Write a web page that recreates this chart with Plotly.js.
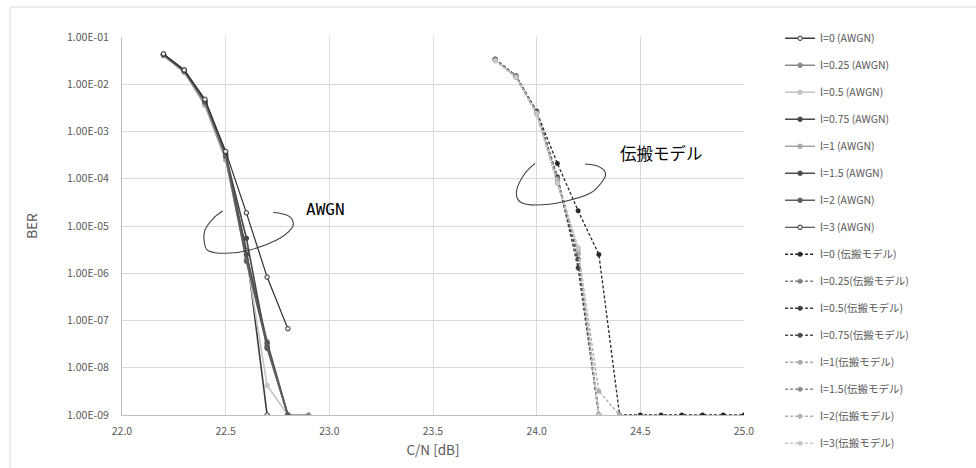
<!DOCTYPE html>
<html>
<head>
<meta charset="utf-8">
<script src="https://cdn.plot.ly/plotly-3.0.1.min.js"></script>
<style>html,body{margin:0;padding:0;background:#fff;}#chart{width:976px;height:468px;}</style>
</head>
<body>
<div id="chart"></div>
<script>
// ---- data ----
const xAwgn = [22.2, 22.3, 22.4, 22.5, 22.6, 22.7, 22.8, 22.9];
const xProp = [23.8, 23.9, 24.0, 24.1, 24.2, 24.3, 24.4, 24.5, 24.6, 24.7, 24.8, 24.9, 25.0];

const awgnNames = ["l=0 (AWGN)", "l=0.25 (AWGN)", "l=0.5 (AWGN)", "l=0.75 (AWGN)", "l=1 (AWGN)", "l=1.5 (AWGN)", "l=2 (AWGN)", "l=3 (AWGN)"];
const awgn_l0   = [4.3e-2, 1.9e-2, 4.2e-3, 3.0e-4, 3.0e-6, 1e-9];
const awgn_l025 = [4.2e-2, 1.9e-2, 4.0e-3, 2.8e-4, 2.5e-6, 3.6e-8, 1e-9, 1e-9];
const awgn_l05  = [4.1e-2, 1.8e-2, 3.8e-3, 2.6e-4, 2.2e-6, 4.2e-9, 1e-9];
const awgn_l075 = [4.2e-2, 1.9e-2, 4.0e-3, 3.2e-4, 5.5e-6, 2.6e-8, 1e-9];
const awgn_l1   = [4.0e-2, 1.8e-2, 3.6e-3, 2.5e-4, 2.0e-6, 3.0e-8, 1e-9];
const awgn_l15  = [4.3e-2, 2.0e-2, 4.5e-3, 3.5e-4, 2.5e-6, 3.3e-8, 1e-9];
const awgn_l2   = [4.2e-2, 1.9e-2, 4.2e-3, 3.0e-4, 1.8e-6, 2.8e-8, 1e-9];
const awgn_l3   = [4.4e-2, 2.0e-2, 4.8e-3, 3.8e-4, 1.9e-5, 8.3e-7, 6.7e-8];

const propNames = ["l=0 (伝搬モデル)", "l=0.25(伝搬モデル)", "l=0.5(伝搬モデル)", "l=0.75(伝搬モデル)", "l=1(伝搬モデル)", "l=1.5(伝搬モデル)", "l=2(伝搬モデル)", "l=3(伝搬モデル)"];
const prop_l0   = [3.4e-2, 1.5e-2, 2.6e-3, 2.1e-4, 2.1e-5, 2.5e-6, 1e-9, 1e-9, 1e-9, 1e-9, 1e-9, 1e-9, 1e-9];
const prop_l025 = [3.3e-2, 1.5e-2, 2.5e-3, 1.0e-4, 2.5e-6, 1e-9];
const prop_l05  = [3.4e-2, 1.5e-2, 2.7e-3, 1.1e-4, 1.3e-6, 1e-9];
const prop_l075 = [3.3e-2, 1.5e-2, 2.5e-3, 9.0e-5, 2.0e-6, 1e-9];
const prop_l1   = [3.2e-2, 1.4e-2, 2.4e-3, 8.0e-5, 3.4e-6, 1e-9];
const prop_l15  = [3.3e-2, 1.5e-2, 2.5e-3, 1.0e-4, 2.8e-6, 1e-9];
const prop_l2   = [3.2e-2, 1.4e-2, 2.4e-3, 9.0e-5, 3.0e-6, 3.2e-9, 1e-9];
const prop_l3   = [3.1e-2, 1.4e-2, 2.3e-3, 8.0e-5, 3.5e-6, 1e-9];

const yTickVals = [1e-9, 1e-8, 1e-7, 1e-6, 1e-5, 1e-4, 1e-3, 1e-2, 1e-1];
const yTickText = ["1.00E-09", "1.00E-08", "1.00E-07", "1.00E-06", "1.00E-05", "1.00E-04", "1.00E-03", "1.00E-02", "1.00E-01"];

// ---- styles ----
const awgnSeries = [awgn_l0, awgn_l025, awgn_l05, awgn_l075, awgn_l1, awgn_l15, awgn_l2, awgn_l3];
const propSeries = [prop_l0, prop_l025, prop_l05, prop_l075, prop_l1, prop_l15, prop_l2, prop_l3];
const awgnColors = ["#3a3a3a", "#8a8a8a", "#c4c4c4", "#474747", "#a6a6a6", "#4d4d4d", "#5e5e5e", "#2e2e2e"];
const awgnOpen   = [true, false, false, false, false, false, false, true];
const propColors = ["#262626", "#7f7f7f", "#3d3d3d", "#4a4a4a", "#a8a8a8", "#8c8c8c", "#b0b0b0", "#c8c8c8"];

const traces = [];
awgnSeries.forEach((ys, i) => {
  traces.push({
    x: xAwgn.slice(0, ys.length), y: ys, name: awgnNames[i], type: 'scatter', mode: 'lines+markers',
    legendgroup: 'a' + i,
    line: {color: awgnColors[i], width: i === 7 ? 1.2 : 1.6},
    marker: {symbol: 'circle', size: 4.5, color: awgnOpen[i] ? '#e6e6e6' : awgnColors[i], line: {color: awgnColors[i], width: 1}}
  });
});
propSeries.forEach((ys, i) => {
  traces.push({
    x: xProp.slice(0, ys.length), y: ys, name: propNames[i], type: 'scatter', mode: 'lines+markers',
    legendgroup: 'p' + i,
    line: {color: propColors[i], width: i === 0 ? 1.3 : 1.5, dash: '3px,2px'},
    marker: {symbol: 'circle', size: 4.5, color: propColors[i], line: {color: propColors[i], width: 0.5}}
  });
});

// ---- helper for hand-drawn ellipses (pixel -> paper) ----
const L = 122, R = 744, T = 37, B = 415;
function toPaper(p) { return [(p[0] - L) / (R - L), (B - p[1]) / (B - T)]; }
function smoothPath(pts) {
  const q = pts.map(toPaper);
  let d = 'M ' + q[0][0] + ',' + q[0][1];
  for (let i = 0; i < q.length - 1; i++) {
    const p0 = q[Math.max(i - 1, 0)], p1 = q[i], p2 = q[i + 1], p3 = q[Math.min(i + 2, q.length - 1)];
    const c1 = [p1[0] + (p2[0] - p0[0]) / 6, p1[1] + (p2[1] - p0[1]) / 6];
    const c2 = [p2[0] - (p3[0] - p1[0]) / 6, p2[1] - (p3[1] - p1[1]) / 6];
    d += ' C ' + c1[0] + ',' + c1[1] + ' ' + c2[0] + ',' + c2[1] + ' ' + p2[0] + ',' + p2[1];
  }
  return d;
}
const awgnLoop = [[222.7,211],[213.3,218.3],[205,230],[204.3,241.7],[208.3,250.7],[226.7,253.3],[250,250],[276.7,240],[291.7,228.3],[292.7,220.7],[286.7,215],[273.3,212.3]];
const propLoop = [[535,163.3],[525,173.3],[516.7,190],[520,201.7],[536.7,205],[563.3,201.7],[590,193.3],[603.3,180],[605,171.7],[596.7,165.7],[585,164]];

const axisFont = {family: 'Noto Sans CJK JP, Open Sans, sans-serif', size: 10.5, color: '#595959'};

const layout = {
  width: 976, height: 468,
  margin: {l: L, r: 976 - R, t: T, b: 468 - B},
  paper_bgcolor: '#ffffff', plot_bgcolor: '#ffffff',
  font: {family: 'Noto Sans CJK JP, Open Sans, sans-serif', color: '#595959'},
  showlegend: true,
  legend: {
    x: 1.058, xanchor: 'left', y: 1.035, yanchor: 'top',
    traceorder: 'grouped', tracegroupgap: 8, maxheight: 466,
    font: {family: 'Noto Sans CJK JP, Open Sans, sans-serif', size: 10.5, color: '#595959'},
    bgcolor: 'rgba(0,0,0,0)', borderwidth: 0
  },
  xaxis: {
    range: [22, 25], dtick: 0.5, tick0: 22, tickformat: '.1f',
    showgrid: true, gridcolor: '#d9d9d9', gridwidth: 1,
    showline: true, linecolor: '#bfbfbf', linewidth: 1,
    zeroline: false, ticks: '', tickfont: axisFont, ticklabelstandoff: 6,
    title: {text: 'C/N [dB]', font: {family: 'Noto Sans CJK JP, Open Sans, sans-serif', size: 13.5, color: '#595959'}, standoff: 8}
  },
  yaxis: {
    type: 'log', range: [-9, -1],
    tickvals: yTickVals, ticktext: yTickText,
    showgrid: true, gridcolor: '#d9d9d9', gridwidth: 1,
    showline: true, linecolor: '#bfbfbf', linewidth: 1,
    zeroline: false, ticks: '', tickfont: axisFont, ticklabelstandoff: 10,
    title: {text: 'BER', font: {family: 'Noto Sans CJK JP, Open Sans, sans-serif', size: 13.5, color: '#595959'}, standoff: 26}
  },
  shapes: [
    {type: 'path', xref: 'paper', yref: 'paper', path: smoothPath(awgnLoop), line: {color: '#404040', width: 1.1}},
    {type: 'path', xref: 'paper', yref: 'paper', path: smoothPath(propLoop), line: {color: '#404040', width: 1.1}},
    {type: 'rect', xref: 'paper', yref: 'paper', x0: (10 - L) / (R - L), x1: (1000 - L) / (R - L), y0: (B - 500) / (B - T), y1: (B - 7) / (B - T), line: {color: '#d9d9d9', width: 1}, fillcolor: 'rgba(0,0,0,0)', layer: 'below'}
  ],
  annotations: [
    {xref: 'paper', yref: 'paper', x: (325 - L) / (R - L), y: (B - 209) / (B - T), xanchor: 'center', yanchor: 'middle', text: 'AWGN', showarrow: false,
     font: {family: 'DejaVu Sans Mono, monospace', size: 16, color: '#000000'}},
    {xref: 'paper', yref: 'paper', x: (661 - L) / (R - L), y: (B - 153) / (B - T), xanchor: 'center', yanchor: 'middle', text: '伝搬モデル', showarrow: false,
     font: {family: 'Noto Sans CJK JP, sans-serif', size: 16.5, color: '#000000'}}
  ]
};

Plotly.newPlot('chart', traces, layout, {displayModeBar: false, staticPlot: true});
</script>
</body>
</html>
